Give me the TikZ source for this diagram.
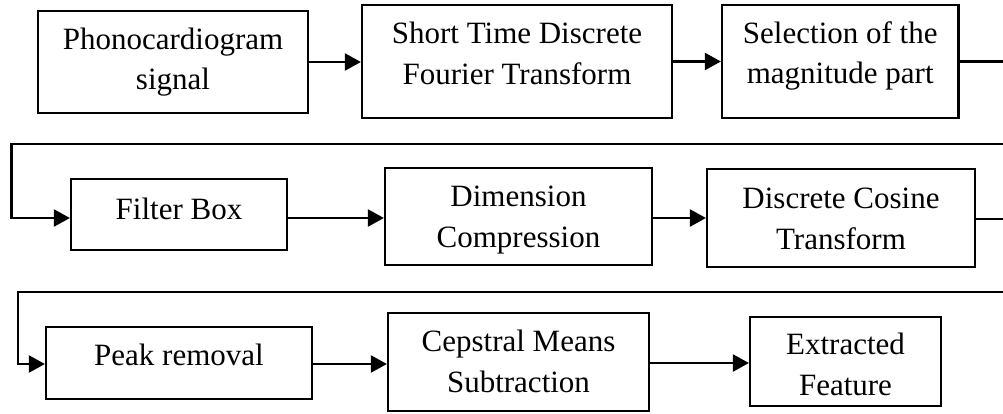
\documentclass[tikz,border=0pt]{standalone}
\usepackage{fontspec}
\setmainfont{Liberation Serif}
\usetikzlibrary{arrows.meta}

\tikzset{
  stagebox/.style={draw=black, line width=2.2pt, rectangle, inner sep=0pt},
  caption/.style={align=center, inner sep=0pt, text=black,
                  font=\fontsize{31}{40.5}\selectfont},
  flow/.style={draw=black, line width=2.2pt, -{Triangle[length=16pt,width=17pt]}},
}

\begin{document}
\begin{tikzpicture}[x=1pt, y=-1pt]
  \useasboundingbox (0,0) rectangle (1003,413);

  % ---- first row ----
  \node[stagebox, minimum width=270pt, minimum height=102pt] (b1) at (173,62) {};
  \node[stagebox, minimum width=310pt, minimum height=113pt] (b2) at (517,61.5) {};
  \node[stagebox, minimum width=236.5pt, minimum height=113pt] (b3) at (840.25,61.5) {};
  \node[caption] (t1) at (173,62.3) {Phonocardiogram\\signal};
  \node[caption] (t2) at (517,53.5) {Short Time Discrete\\Fourier Transform};
  \node[caption] (t3) at (840.25,55.8) {Selection of the\\magnitude part};

  % ---- second row ----
  \node[stagebox, minimum width=216pt, minimum height=71pt] (b4) at (179,214.5) {};
  \node[stagebox, minimum width=267pt, minimum height=97pt] (b5) at (518.5,216.5) {};
  \node[stagebox, minimum width=268pt, minimum height=98pt] (b6) at (841,218) {};
  \node[caption] (t4) at (179,208.7) {Filter Box};
  \node[caption] (t5) at (518.5,219.8) {Dimension\\Compression};
  \node[caption] (t6) at (841,218.7) {Discrete Cosine\\Transform};

  % ---- third row ----
  \node[stagebox, minimum width=266pt, minimum height=72pt] (b7) at (179,363) {};
  \node[stagebox, minimum width=261pt, minimum height=98pt] (b8) at (518.5,362) {};
  \node[stagebox, minimum width=191pt, minimum height=89pt] (b9) at (845.5,361.5) {};
  \node[caption] (t7) at (179,354.4) {Peak removal};
  \node[caption] (t8) at (518.5,361.2) {Cepstral Means\\Subtraction};
  \node[caption] (t9) at (845.5,364.5) {Extracted\\Feature};

  % ---- routing points for the wrap-around connectors ----
  \coordinate (r1) at (1012,61.5);
  \coordinate (r2) at (1012,144);
  \coordinate (l1) at (11.5,144);
  \coordinate (l2) at (11.5,218);
  \coordinate (r3) at (1012,219);
  \coordinate (r4) at (1012,292);
  \coordinate (l3) at (18,292);
  \coordinate (l4) at (18,364);

  % ---- connectors ----
  \draw[flow] (b1.east) -- (b1.east -| b2.west);
  \draw[flow] (b2.east) -- (b3.west);
  \draw[flow] (b3.east) -- (r1) -- (r2) -- (l1) -- (l2) -- (l2 -| b4.west);

  \draw[flow] (b4.east |- l2) -- (b5.west |- l2);
  \draw[flow] (b5.east |- l2) -- (b6.west |- l2);
  \draw[flow] (b6.east |- r3) -- (r3) -- (r4) -- (l3) -- (l4) -- (l4 -| b7.west);

  \draw[flow] (b7.east |- l4) -- (b8.west |- l4);
  \draw[flow] (b8.east |- 0,363) -- (b9.west |- 0,363);
\end{tikzpicture}
\end{document}
